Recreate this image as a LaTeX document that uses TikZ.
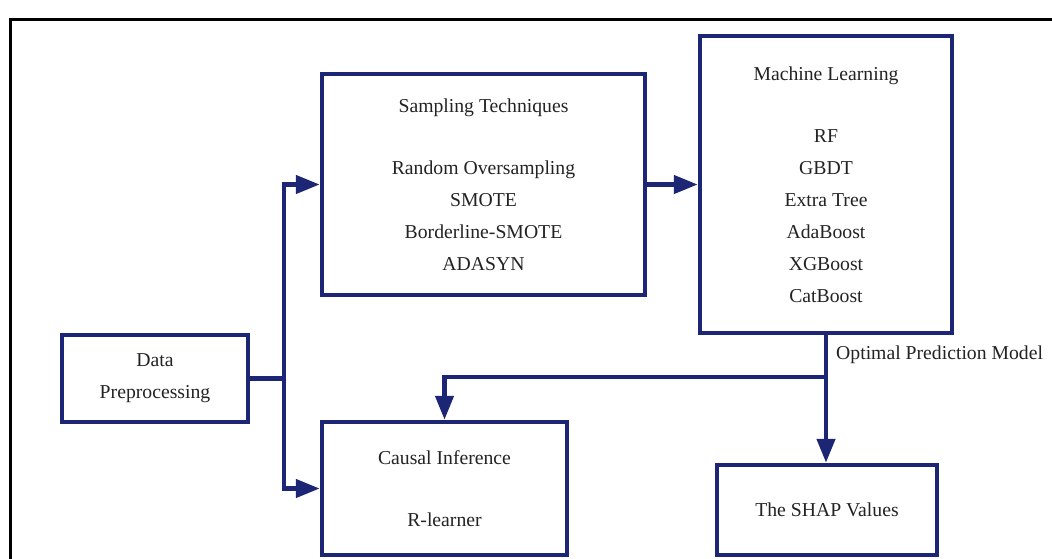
\documentclass[tikz,border=0pt]{standalone}
\usepackage{fontspec}
\setmainfont{Liberation Serif}
\usetikzlibrary{arrows.meta}
\definecolor{navy}{RGB}{28,38,117}
\definecolor{txt}{RGB}{35,35,35}
\tikzset{
  box/.style={draw=navy, line width=4.5pt, rectangle, align=center, text=txt,
    font=\fontsize{19.7}{32}\selectfont, inner sep=0pt},
  conn/.style={draw=navy, line width=4.5pt},
  arr/.style={conn, -{Triangle[length=24pt,width=18pt]}},
  lbl/.style={text=txt, font=\fontsize{19.7}{24}\selectfont, inner sep=0pt}
}
\begin{document}
\begin{tikzpicture}[x=1pt,y=-1pt]
\useasboundingbox (0,0) rectangle (1052,558);
\clip (0,0) rectangle (1052,558);
\fill[white] (0,0) rectangle (1052,558);
\draw[black, line width=3pt] (10,19) rectangle (1090,600);

\node[box, minimum width=186pt, minimum height=87pt] (dp) at (155,378.5) {Data\\Preprocessing};
\node[box, minimum width=323pt, minimum height=221pt] (samp) at (483.5,184.5)
  {Sampling Techniques\\[30pt]Random Oversampling\\SMOTE\\Borderline-SMOTE\\ADASYN};
\node[box, minimum width=252pt, minimum height=297pt] (ml) at (826,184.5)
  {Machine Learning\\[30pt]RF\\GBDT\\Extra Tree\\AdaBoost\\XGBoost\\CatBoost};
\node[box, minimum width=245pt, minimum height=133pt] (ci) at (444.5,488.5)
  {Causal Inference\\[30pt]R-learner};
\node[box, minimum width=220pt, minimum height=90pt] (shap) at (827,510) {The SHAP Values};

\coordinate (j) at (284,378.5);
\coordinate (k) at (826,377);

\draw[conn] (dp.east) -- (j);
\draw[arr] (j) |- (samp.west);
\draw[arr] (j) |- (ci.west);
\draw[arr] (samp.east) -- (ml.west);
\draw[conn] (ml.south) -- (k);
\draw[arr] (k) -- (k |- shap.north);
\draw[arr] (k) -| (ci.north);

\node[lbl, anchor=west] (opm) at (836,355) {Optimal Prediction Model};
\end{tikzpicture}
\end{document}
